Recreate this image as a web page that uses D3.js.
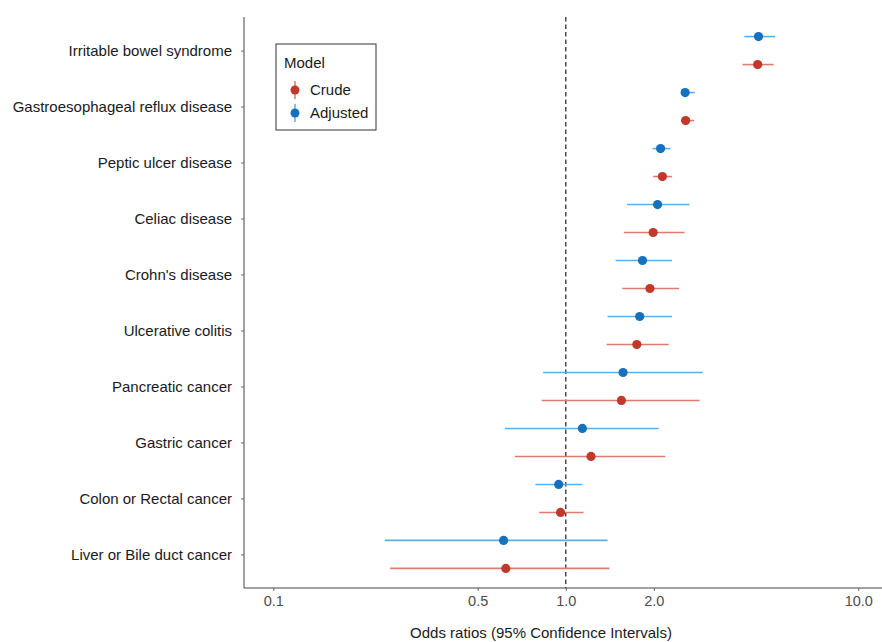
<!DOCTYPE html>
<html>
<head>
<meta charset="utf-8">
<script src="https://cdn.jsdelivr.net/npm/d3@7"></script>
<style>
  html, body { margin: 0; padding: 0; background: #fff; }
  svg { display: block; font-family: "Liberation Sans", Arial, sans-serif; }
</style>
</head>
<body>
<svg id="chart" width="882" height="642"></svg>
<script>
const categories = [
  "Irritable bowel syndrome",
  "Gastroesophageal reflux disease",
  "Peptic ulcer disease",
  "Celiac disease",
  "Crohn's disease",
  "Ulcerative colitis",
  "Pancreatic cancer",
  "Gastric cancer",
  "Colon or Rectal cancer",
  "Liver or Bile duct cancer"
];
const models = ["Crude", "Adjusted"];
const crudeOR   = [4.53, 2.57, 2.14, 1.99, 1.94, 1.75, 1.55, 1.22, 0.96, 0.624];
const crudeLow  = [4.02, 2.48, 1.99, 1.58, 1.56, 1.38, 0.828, 0.670, 0.811, 0.251];
const crudeHigh = [5.14, 2.75, 2.31, 2.55, 2.44, 2.25, 2.87, 2.19, 1.15, 1.41];
const adjOR   = [4.56, 2.56, 2.11, 2.06, 1.83, 1.79, 1.57, 1.14, 0.946, 0.613];
const adjLow  = [4.08, 2.49, 1.98, 1.62, 1.48, 1.39, 0.837, 0.619, 0.788, 0.2405];
const adjHigh = [5.20, 2.76, 2.28, 2.65, 2.31, 2.31, 2.94, 2.08, 1.14, 1.39];
const xTicks = [0.1, 0.5, 1.0, 2.0, 10.0];
const xTickLabels = ["0.1", "0.5", "1.0", "2.0", "10.0"];
const refLine = 1.0;

const colors = {
  Crude:    { point: "#c0392b", line: "#e07b70" },
  Adjusted: { point: "#1570bf", line: "#5fade3" }
};

const svg = d3.select("#chart");
const panel = { left: 244, top: 17, bottom: 588, right: 887.5 };

const x = d3.scaleLog()
  .domain([Math.pow(10, -1.1), Math.pow(10, 1.1)])
  .range([panel.left, panel.right]);

const y = d3.scalePoint()
  .domain(categories)
  .range([panel.top, panel.bottom])
  .padding(0.6);

const bw = y.step();
const dodge = { Adjusted: -0.25 * bw, Crude: 0.25 * bw };

// reference line
svg.append("line")
  .attr("x1", x(refLine)).attr("x2", x(refLine))
  .attr("y1", panel.top).attr("y2", panel.bottom)
  .attr("stroke", "#4a4a4a").attr("stroke-width", 1.5)
  .attr("stroke-dasharray", "4.5,3");

// data rows
const rows = [];
categories.forEach((c, i) => {
  rows.push({ cat: c, model: "Adjusted", or: adjOR[i], lo: adjLow[i], hi: adjHigh[i] });
  rows.push({ cat: c, model: "Crude", or: crudeOR[i], lo: crudeLow[i], hi: crudeHigh[i] });
});

const g = svg.append("g");
g.selectAll("line.ci").data(rows).join("line")
  .attr("class", "ci")
  .attr("x1", d => x(d.lo)).attr("x2", d => x(d.hi))
  .attr("y1", d => y(d.cat) + dodge[d.model])
  .attr("y2", d => y(d.cat) + dodge[d.model])
  .attr("stroke", d => colors[d.model].line)
  .attr("stroke-width", 1.6);

g.selectAll("circle.pt").data(rows).join("circle")
  .attr("class", "pt")
  .attr("cx", d => x(d.or))
  .attr("cy", d => y(d.cat) + dodge[d.model])
  .attr("r", 4.6)
  .attr("fill", d => colors[d.model].point);

// axes
const xAxis = d3.axisBottom(x)
  .tickValues(xTicks)
  .tickFormat((d, i) => xTickLabels[i])
  .tickSize(3).tickSizeOuter(0).tickPadding(5);
const gx = svg.append("g")
  .attr("transform", `translate(0,${panel.bottom})`)
  .call(xAxis);
gx.select(".domain").attr("stroke", "#444").attr("d", `M${panel.left},0H882`);
gx.selectAll(".tick line").attr("stroke", "#666");
gx.selectAll(".tick text").attr("fill", "#4d4d4d").attr("font-size", 14.5);

const yAxis = d3.axisLeft(y).tickSize(3).tickSizeOuter(0).tickPadding(9);
const gy = svg.append("g")
  .attr("transform", `translate(${panel.left},0)`)
  .call(yAxis);
gy.select(".domain").attr("stroke", "#444").attr("d", `M0,${panel.top}V${panel.bottom}`);
gy.selectAll(".tick line").attr("stroke", "#666");
gy.selectAll(".tick text").attr("fill", "#1a1a1a").attr("font-size", 15);

// x title
svg.append("text")
  .attr("x", 541).attr("y", 638)
  .attr("text-anchor", "middle")
  .attr("font-size", 15).attr("fill", "#1a1a1a")
  .text("Odds ratios (95% Confidence Intervals)");

// legend
const lg = svg.append("g").attr("transform", "translate(276,44)");
lg.append("rect").attr("x", 0).attr("y", 0).attr("width", 100).attr("height", 86)
  .attr("fill", "#fff").attr("stroke", "#333").attr("stroke-width", 1);
lg.append("text").attr("x", 8).attr("y", 24).attr("font-size", 15).attr("fill", "#1a1a1a").text("Model");
models.forEach((m, i) => {
  const cy = 46 + i * 23;
  lg.append("line").attr("x1", 19).attr("x2", 19).attr("y1", cy - 9).attr("y2", cy + 9)
    .attr("stroke", colors[m].line).attr("stroke-width", 1.5);
  lg.append("circle").attr("cx", 19).attr("cy", cy).attr("r", 4.5).attr("fill", colors[m].point);
  lg.append("text").attr("x", 34).attr("y", cy + 5).attr("font-size", 15).attr("fill", "#1a1a1a").text(m);
});
</script>
</body>
</html>
